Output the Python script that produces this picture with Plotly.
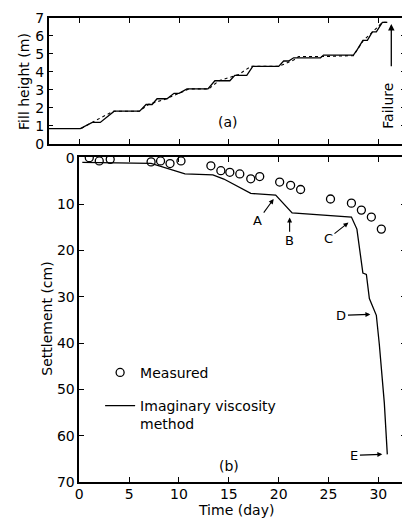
import plotly.graph_objects as go

# ---------------- data ----------------
# (a) fill height
fill_day = [-3.1, 0.1, 1.3, 2.1, 3.5, 6.05, 6.7, 7.3, 7.8, 8.8, 9.5, 10.0, 10.8, 12.9, 13.6, 15.1,
            15.6, 16.8, 17.4, 20.0, 20.5, 21.0, 21.5, 24.2, 24.5, 27.5, 27.9, 28.45, 28.9, 29.4,
            29.8, 30.4, 30.9]
fill_h = [0.84, 0.84, 1.18, 1.18, 1.81, 1.81, 2.18, 2.18, 2.5, 2.5, 2.8, 2.8, 3.05, 3.05, 3.5, 3.5,
          3.8, 3.8, 4.3, 4.3, 4.6, 4.6, 4.78, 4.78, 4.93, 4.93, 5.25, 5.75, 5.75, 6.22,
          6.22, 6.75, 6.75]
plan_day = [0.2, 1.5, 3.4, 6.0, 7.0, 8.5, 10.0, 11.0, 13.0, 14.0, 16.0, 17.2, 20.0, 21.5, 22.0,
            24.5, 27.5, 28.0, 28.5, 29.4, 30.4, 30.9]
plan_h = [0.84, 1.25, 1.8, 1.8, 2.2, 2.45, 2.8, 3.05, 3.05, 3.5, 3.85, 4.3, 4.3, 4.65, 4.85,
          4.85, 4.9, 5.3, 5.75, 6.2, 6.75, 6.75]

# (b) settlement
meas_day = [1.0, 2.0, 3.1, 7.2, 8.15, 9.1, 10.2, 13.2, 14.2, 15.1, 16.1, 17.2, 18.1, 20.1, 21.2,
            22.2, 25.2, 27.3, 28.3, 29.3, 30.3]
meas_s = [0.0, 0.7, 0.35, 0.9, 0.7, 1.26, 0.7, 1.75, 2.8, 3.15, 3.5, 4.55, 4.06, 5.25, 5.95,
          6.86, 8.9, 9.8, 11.3, 12.8, 15.4]
calc_day = [0.3, 7.2, 10.6, 13.4, 14.5, 15.6, 17.2, 19.7, 21.35, 27.3, 27.85, 28.45, 28.8, 29.1,
            29.8, 30.1, 30.6, 30.9]
calc_s = [1.0, 1.2, 3.5, 3.7, 4.6, 5.9, 7.7, 8.05, 11.9, 12.8, 15.4, 24.9, 25.2, 30.4,
          34.0, 40.3, 52.9, 64.0]

labels = ["A", "B", "C", "D", "E"]
label_day = [17.9, 21.1, 25.0, 26.3, 27.6]
label_s = [13.6, 17.9, 17.4, 34.0, 64.2]
point_day = [19.5, 21.1, 27.0, 29.2, 30.4]
point_s = [8.9, 12.9, 14.0, 33.8, 64.0]

x_ticks = [0, 5, 10, 15, 20, 25, 30]
h_ticks = [0, 1, 2, 3, 4, 5, 6, 7]
s_ticks = [0, 10, 20, 30, 40, 50, 60, 70]

# ---------------- figure ----------------
OFFX, OFFY = 8, 8            # default body margin of the html page
W, H = 410 - OFFX, 529 - OFFY
FONT = "DejaVu Sans"


def fx(px):
    return (px - OFFX) / W


def fy(py):
    return 1 - (py - OFFY) / H


fig = go.Figure()
fig.add_trace(go.Scatter(x=fill_day, y=fill_h, mode="lines", xaxis="x2", yaxis="y2",
                         line=dict(color="black", width=1.3), showlegend=False))
fig.add_trace(go.Scatter(x=plan_day, y=plan_h, mode="lines", xaxis="x2", yaxis="y2",
                         line=dict(color="black", width=1.1, dash="3px,3px"), showlegend=False))
fig.add_trace(go.Scatter(x=meas_day, y=meas_s, mode="markers", name="Measured",
                         legendgroup="m",
                         marker=dict(symbol="circle-open", size=8, color="black",
                                     line=dict(width=1.3))))
fig.add_trace(go.Scatter(x=calc_day, y=calc_s, mode="lines",
                         name="Imaginary viscosity<br>method", legendgroup="c",
                         line=dict(color="black", width=1.3)))

axis_common = dict(showline=True, linecolor="black", linewidth=1.5, mirror="ticks",
                   ticks="inside", ticklen=5, tickwidth=1.3, tickcolor="black",
                   showgrid=False, zeroline=False,
                   tickfont=dict(family=FONT, size=14, color="black"))

fig.update_layout(
    width=W, height=H,
    margin=dict(l=0, r=0, t=0, b=0),
    paper_bgcolor="white", plot_bgcolor="white",
    font=dict(family=FONT, size=14, color="black"),
    xaxis=dict(domain=[fx(76), fx(406)], range=[0, 32.78], tickvals=x_ticks,
               anchor="y", ticklabelstandoff=-2, **axis_common),
    yaxis=dict(domain=[fy(489), fy(154)], range=[70, -0.2], tickvals=s_ticks,
               anchor="x", **axis_common),
    xaxis2=dict(domain=[fx(45), fx(406)], range=[-3.08, 32.78], tickvals=x_ticks,
                showticklabels=False, anchor="y2", **axis_common),
    yaxis2=dict(domain=[fy(141), fy(11)], range=[-0.03, 7.0], tickvals=h_ticks,
                anchor="x2", **axis_common),
    legend=dict(x=fx(97), y=fy(360), xanchor="left", yanchor="top",
                bgcolor="rgba(0,0,0,0)", traceorder="grouped", tracegroupgap=12,
                valign="top", font=dict(family=FONT, size=14)),
)

C = dict(xanchor="center", yanchor="middle", showarrow=False)
ann = []
# axis titles
ann.append(dict(text="Fill height (m)", x=fx(20), y=fy(76), xref="paper", yref="paper",
                textangle=-90, font=dict(size=14), **C))
ann.append(dict(text="Settlement (cm)", x=fx(43), y=fy(321), xref="paper", yref="paper",
                textangle=-90, font=dict(size=14), **C))
ann.append(dict(text="Time (day)", x=fx(234), y=fy(518), xref="paper", yref="paper",
                font=dict(size=14), **C))
# panel labels
ann.append(dict(text="(a)", x=14.9, y=1.2, xref="x2", yref="y2", font=dict(size=14), **C))
ann.append(dict(text="(b)", x=15.0, y=66.5, xref="x", yref="y", font=dict(size=14), **C))
# failure
ann.append(dict(text="Failure", x=30.95, y=2.1, xref="x2", yref="y2", textangle=-90,
                font=dict(size=14), **C))
ann.append(dict(text="", x=31.3, y=6.66, ax=31.3, ay=4.23, xref="x2", yref="y2",
                axref="x2", ayref="y2", showarrow=True, arrowhead=2, arrowsize=1,
                arrowwidth=1.3, arrowcolor="black"))
# A-E
for t, lx, ly, px, py in zip(labels, label_day, label_s, point_day, point_s):
    ann.append(dict(text=t, x=px, y=py, ax=lx, ay=ly, xref="x", yref="y", axref="x",
                    ayref="y", showarrow=True, arrowhead=2, arrowsize=0.9, arrowwidth=1.1,
                    arrowcolor="black", standoff=0, font=dict(size=13)))
fig.update_layout(annotations=ann)

fig.write_html("out.html")
